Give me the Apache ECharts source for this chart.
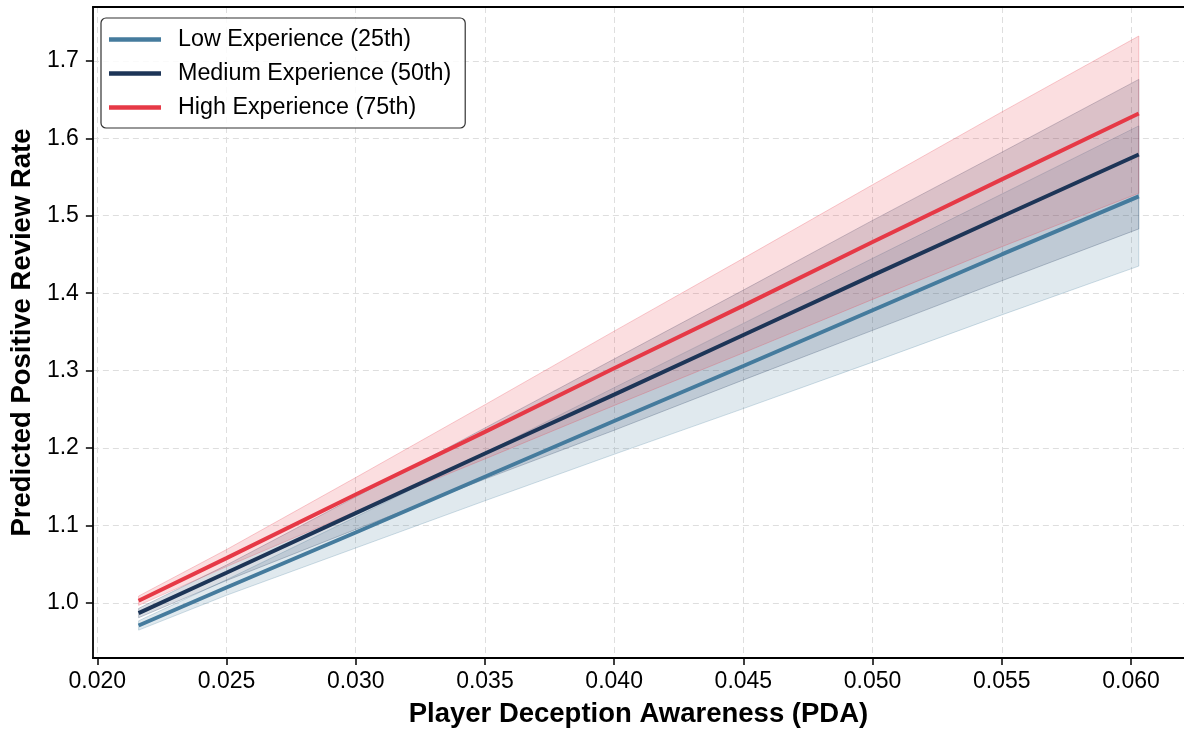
<!DOCTYPE html>
<html>
<head>
<meta charset="utf-8">
<script src="https://cdn.jsdelivr.net/npm/echarts@6/dist/echarts.min.js"></script>
<style>
html,body{margin:0;padding:0;background:#fff;}
#chart{width:1184px;height:733px;}
</style>
</head>
<body>
<div id="chart"></div>
<script>
// ---- data ----
const pda = [0.0216, 0.025, 0.030, 0.035, 0.040, 0.045, 0.050, 0.055, 0.0603];

const lowMean   = [0.971, 1.020, 1.091, 1.163, 1.235, 1.306, 1.378, 1.450, 1.525];
const lowLower  = [0.965, 1.010, 1.071, 1.132, 1.192, 1.251, 1.311, 1.372, 1.435];
const lowUpper  = [0.977, 1.030, 1.111, 1.194, 1.278, 1.361, 1.445, 1.528, 1.616];

const medMean   = [0.987, 1.039, 1.116, 1.193, 1.269, 1.346, 1.423, 1.499, 1.579];
const medLower  = [0.981, 1.029, 1.095, 1.160, 1.223, 1.288, 1.352, 1.416, 1.483];
const medUpper  = [0.993, 1.049, 1.137, 1.226, 1.315, 1.404, 1.494, 1.582, 1.676];

const highMean  = [1.003, 1.058, 1.140, 1.221, 1.303, 1.384, 1.466, 1.547, 1.632];
const highLower = [0.997, 1.047, 1.118, 1.186, 1.255, 1.323, 1.392, 1.460, 1.529];
const highUpper = [1.009, 1.069, 1.162, 1.256, 1.351, 1.445, 1.540, 1.634, 1.732];

const seriesNames = ['Low Experience (25th)', 'Medium Experience (50th)', 'High Experience (75th)'];
const colors = ['#457b9d', '#1d3557', '#e63946'];

// ---- chart ----
const FONT = '"Liberation Sans", Arial, Helvetica, sans-serif';

function hexA(hex, a) {
  const r = parseInt(hex.slice(1,3),16), g = parseInt(hex.slice(3,5),16), b = parseInt(hex.slice(5,7),16);
  return 'rgba(' + r + ',' + g + ',' + b + ',' + a + ')';
}

function bandSeries(name, lower, upper, color) {
  return {
    type: 'custom',
    name: name,
    clip: true,
    silent: true,
    xAxisIndex: 0, yAxisIndex: 0,
    data: [[pda[0], lower[0]]],
    renderItem: function (params, api) {
      const pts = [];
      for (let i = 0; i < pda.length; i++) pts.push(api.coord([pda[i], upper[i]]));
      for (let i = pda.length - 1; i >= 0; i--) pts.push(api.coord([pda[i], lower[i]]));
      return {
        type: 'polygon',
        shape: { points: pts },
        style: { fill: hexA(color, 0.17), stroke: hexA(color, 0.25), lineWidth: 1 }
      };
    }
  };
}

function lineSeries(name, mean, color) {
  return {
    type: 'line',
    name: name,
    xAxisIndex: 0, yAxisIndex: 0,
    data: pda.map((x, i) => [x, mean[i]]),
    showSymbol: false,
    symbol: 'none',
    lineStyle: { color: color, width: 4 },
    itemStyle: { color: color },
    silent: true
  };
}

const chart = echarts.init(document.getElementById('chart'), null, { renderer: 'canvas' });

const XMIN = 0.01983, XMAX = 0.06205;

const axisCommon = {
  type: 'value',
  nameLocation: 'middle',
  nameTextStyle: { fontFamily: FONT, fontSize: 27.5, fontWeight: 'bold', color: '#000' },
  axisLine: { show: true, onZero: false, lineStyle: { color: '#000', width: 1.8 } },
  axisTick: { show: true, inside: false, length: 7, lineStyle: { color: '#000', width: 1.5 } },
  axisLabel: { fontFamily: FONT, fontSize: 23, color: '#000', showMinLabel: false, showMaxLabel: false },
  splitLine: { show: true, lineStyle: { color: '#dedede', width: 1, type: [6, 4] } }
};

chart.setOption({
  animation: false,
  backgroundColor: '#fff',
  grid: { left: 91, right: 0, top: 7, bottom: 73, show: false },
  legend: {
    data: seriesNames,
    orient: 'vertical',
    left: 101, top: 18,
    icon: 'rect',
    itemWidth: 52, itemHeight: 4.5,
    itemGap: 11,
    padding: [10, 14, 9, 8],
    borderColor: '#333', borderWidth: 1.2, borderRadius: 5,
    backgroundColor: 'rgba(255,255,255,0.85)',
    textStyle: { fontFamily: FONT, fontSize: 23.3, color: '#000', padding: [0, 0, 0, 12], lineHeight: 23 }
  },
  xAxis: [
    Object.assign({}, axisCommon, {
      name: 'Player Deception Awareness (PDA)',
      nameGap: 42,
      min: XMIN, max: XMAX,
      splitNumber: 8,
      axisLabel: Object.assign({}, axisCommon.axisLabel, {
        margin: 12,
        formatter: v => v.toFixed(3)
      })
    }),
    {
      type: 'value', position: 'top', min: XMIN, max: XMAX,
      axisLine: { show: true, onZero: false, lineStyle: { color: '#000', width: 1.8 } },
      axisTick: { show: false }, axisLabel: { show: false }, splitLine: { show: false }
    }
  ],
  yAxis: Object.assign({}, axisCommon, {
    name: 'Predicted Positive Review Rate',
    nameGap: 56,
    min: 0.929, max: 1.7695,
    splitNumber: 8,
    axisLabel: Object.assign({}, axisCommon.axisLabel, {
      margin: 14,
      formatter: v => v.toFixed(1)
    })
  }),
  series: [
    bandSeries('Low band', lowLower, lowUpper, colors[0]),
    lineSeries(seriesNames[0], lowMean, colors[0]),
    bandSeries('Medium band', medLower, medUpper, colors[1]),
    lineSeries(seriesNames[1], medMean, colors[1]),
    bandSeries('High band', highLower, highUpper, colors[2]),
    lineSeries(seriesNames[2], highMean, colors[2])
  ]
});
</script>
</body>
</html>
